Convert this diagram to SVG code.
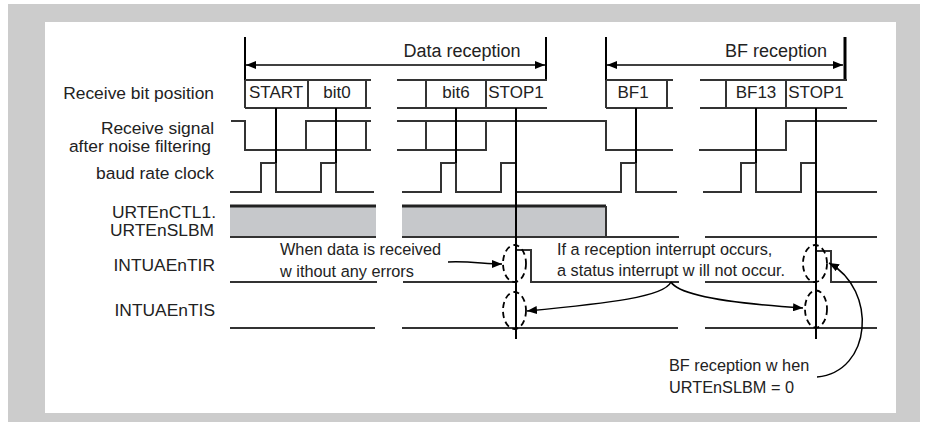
<svg xmlns="http://www.w3.org/2000/svg" width="927" height="428" viewBox="0 0 927 428">
<style>
text{font-family:"Liberation Sans",Arial,sans-serif;fill:#222}
.lbl{font-size:17.4px;text-anchor:end}
.bit{font-size:17px;text-anchor:middle}
.ann{font-size:16.3px}
.hdr{font-size:18px;text-anchor:middle}
.sig{fill:none;stroke:#333;stroke-width:2}
.smp{fill:none;stroke:#000;stroke-width:2}
.ell{fill:none;stroke:#000;stroke-width:1.8;stroke-dasharray:6 4}
.arr{fill:none;stroke:#000;stroke-width:1.5}
</style>
<defs>
<marker id="ah" viewBox="0 0 10 8" refX="10" refY="4" markerWidth="10" markerHeight="8" markerUnits="userSpaceOnUse" orient="auto-start-reverse">
<path d="M0,0 L10,4 L0,8 Z" fill="#000"/>
</marker>
</defs>
<rect x="8" y="4" width="912" height="418" fill="#cccccc"/>
<rect x="45" y="22" width="851" height="391" fill="#ffffff"/>

<g id="labels">
<text class="lbl" x="214" y="99">Receive bit position</text>
<text class="lbl" x="214" y="134">Receive signal</text>
<text class="lbl" x="211" y="152">after noise filtering</text>
<text class="lbl" x="214" y="179">baud rate clock</text>
<text class="lbl" x="216" y="218">URTEnCTL1.</text>
<text class="lbl" x="214" y="236">URTEnSLBM</text>
<text class="lbl" x="215" y="271">INTUAEnTIR</text>
<text class="lbl" x="215" y="316">INTUAEnTIS</text>
</g>

<g id="data-reception">
<line class="smp" x1="245" y1="37" x2="245" y2="80"/>
<line class="smp" x1="546" y1="37" x2="546" y2="80"/>
<line class="arr" x1="246" y1="65" x2="545" y2="65" marker-start="url(#ah)" marker-end="url(#ah)"/>
<text class="hdr" x="462" y="57">Data reception</text>
</g>

<g id="bf-reception">
<line class="smp" x1="606" y1="37" x2="606" y2="80"/>
<line x1="845" y1="37" x2="845" y2="80" stroke="#000" stroke-width="3"/>
<line class="arr" x1="607" y1="65" x2="843" y2="65" marker-start="url(#ah)" marker-end="url(#ah)"/>
<text class="hdr" x="776" y="57">BF reception</text>
</g>

<g id="bit-position">
<path class="sig" d="M245,80 H371 M245,108 H371 M245,80 V108 M308,80 V108 M366,80 V108"/>
<path class="sig" d="M397,80 H547 M397,108 H547 M426,80 V108 M486,80 V108"/>
<path class="sig" d="M606,80 H673 M606,108 H673 M606,80 V108 M667,80 V108"/>
<path class="sig" d="M700,80 H847 M700,108 H847 M726,80 V108 M786,80 V108"/>
<text class="bit" x="276" y="98">START</text>
<text class="bit" x="337" y="98">bit0</text>
<text class="bit" x="456" y="98">bit6</text>
<text class="bit" x="516" y="98">STOP1</text>
<text class="bit" x="633" y="98">BF1</text>
<text class="bit" x="756" y="98">BF13</text>
<text class="bit" x="816" y="98">STOP1</text>
</g>

<g id="receive-signal">
<path class="sig" d="M231,121 H245 V150 H371 M306,150 V121 H371 M366,121 V150"/>
<path class="sig" d="M397,121 H606 V150 H673 M397,150 H486 V121 M426,121 V150"/>
<path class="sig" d="M699,150 H786 V121 H877"/>
</g>

<g id="baud-clock">
<path class="sig" d="M230,192 H261 V163 H276 V192 H321 V163 H336 V192 H374"/>
<path class="sig" d="M402,192 H441 V163 H456 V192 H501 V163 H516 V192 H621 V163 H636 V192 H677"/>
<path class="sig" d="M703,192 H741 V163 H756 V192 H801 V163 H816 V192 H877"/>
</g>

<g id="slbm">
<rect x="230" y="206" width="146" height="31" fill="#c6c8cb"/>
<rect x="402" y="206" width="204" height="31" fill="#c6c8cb"/>
<path d="M230,206 H376 M402,206 H606" stroke="#222" stroke-width="3" fill="none"/>
<path class="sig" d="M230,237 H376 M402,237 H679 M606,206 V237 M705,237 H877"/>
</g>

<g id="tir">
<path class="sig" d="M230,282 H377 M403,282 H516 V250 H531 V282 H679 M705,282 H816 V251 H831 V282 H877"/>
</g>

<g id="tis">
<path class="sig" d="M230,328 H375 M402,328 H678 M705,328 H877"/>
</g>

<g id="sample-lines">
<path class="smp" d="M276,108 V163 M336,108 V163 M456,108 V163 M516,108 V339 M636,108 V163 M756,108 V163 M816,108 V339"/>
</g>

<g id="ellipses">
<ellipse class="ell" cx="514.5" cy="263.5" rx="11.5" ry="18.5"/>
<ellipse class="ell" cx="514.5" cy="310.5" rx="11.5" ry="18.5"/>
<ellipse class="ell" cx="815" cy="263.5" rx="12" ry="18.5"/>
<ellipse class="ell" cx="816" cy="309" rx="11" ry="18.5"/>
</g>

<g id="annotations">
<text class="ann" x="280" y="255">When data is received</text>
<text class="ann" x="280" y="277">w ithout any errors</text>
<text class="ann" x="557" y="255">If a reception interrupt occurs,</text>
<text class="ann" x="557" y="276">a status interrupt w ill not occur.</text>
<text class="ann" x="669" y="371">BF reception w hen</text>
<text class="ann" x="669" y="393">URTEnSLBM = 0</text>
</g>

<g id="connectors">
<path class="arr" d="M448,262 C470,261 485,264 502,264" marker-end="url(#ah)"/>
<path class="arr" d="M671,282 C664,297 610,303 527,311" marker-end="url(#ah)"/>
<path class="arr" d="M671,282 C680,297 740,304 803,308" marker-end="url(#ah)"/>
<path class="arr" d="M817,377 C872,372 878,290 829,263" marker-end="url(#ah)"/>
</g>
</svg>
